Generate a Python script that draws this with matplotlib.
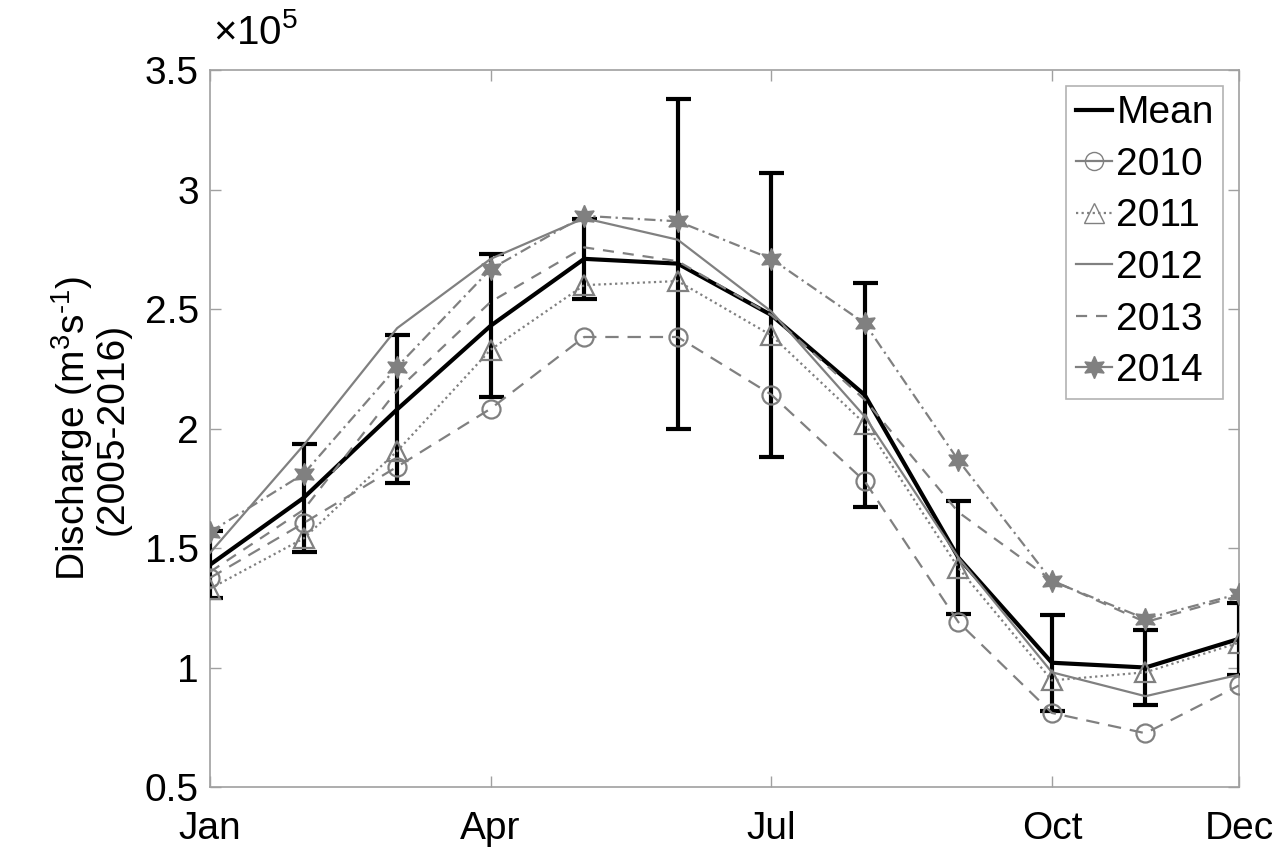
import matplotlib
matplotlib.use("Agg")
import matplotlib.pyplot as plt
from matplotlib.lines import Line2D

plt.rcParams['font.family'] = ['Liberation Sans', 'DejaVu Sans']
plt.rcParams['mathtext.default'] = 'regular'

months = list(range(1, 13))
tick_months = [1, 4, 7, 10, 12]
tick_labels = ['Jan', 'Apr', 'Jul', 'Oct', 'Dec']

# Discharge values in units of 1e5 m^3 s^-1
mean_q = [1.43, 1.71, 2.08, 2.43, 2.71, 2.69, 2.475, 2.14, 1.46, 1.02, 1.00, 1.12]
std_q = [0.14, 0.225, 0.31, 0.30, 0.167, 0.69, 0.595, 0.467, 0.235, 0.20, 0.156, 0.15]
y2010 = [1.375, 1.604, 1.84, 2.083, 2.383, 2.383, 2.142, 1.779, 1.19, 0.81, 0.725, 0.925]
y2011 = [1.33, 1.54, 1.905, 2.33, 2.60, 2.617, 2.39, 2.02, 1.417, 0.946, 0.98, 1.104]
y2012 = [1.48, 1.93, 2.42, 2.71, 2.88, 2.79, 2.49, 2.05, 1.46, 0.98, 0.88, 0.97]
y2013 = [1.40, 1.66, 2.16, 2.53, 2.758, 2.70, 2.475, 2.12, 1.65, 1.365, 1.19, 1.30]
y2014 = [1.567, 1.81, 2.258, 2.667, 2.89, 2.867, 2.71, 2.44, 1.867, 1.362, 1.204, 1.308]

gray = '#808080'

fig = plt.figure(figsize=(12.83, 8.5), dpi=100)
ax = fig.add_axes([0.1637, 0.0741, 0.802, 0.8435])

ax.plot(months, mean_q, color='black', lw=3.0, zorder=3)
ax.errorbar(months, mean_q, yerr=std_q, fmt='none', ecolor='black',
            elinewidth=3.0, capsize=9, capthick=3.0, zorder=3)

star = (6, 1, 0)
ax.plot(months, y2010, color=gray, lw=1.6, ls=(0, (6, 4)), marker='o', ms=13,
        mfc='none', mec=gray, mew=1.6, zorder=4)
ax.plot(months, y2011, color=gray, lw=1.6, ls=(0, (1, 1.5)), marker='^', ms=14,
        mfc='none', mec=gray, mew=1.6, zorder=4)
ax.plot(months, y2012, color=gray, lw=1.6, ls='-', zorder=4)
ax.plot(months, y2013, color=gray, lw=1.6, ls=(0, (5, 4)), zorder=4)
ax.plot(months, y2014, color=gray, lw=1.6, ls=(0, (5, 2, 1, 2)), marker=star, ms=16,
        mfc=gray, mec=gray, zorder=4)

ax.set_xlim(1, 12)
ax.set_ylim(0.5, 3.5)
ax.set_xticks(tick_months)
ax.set_xticklabels(tick_labels)
ax.set_yticks([0.5, 1, 1.5, 2, 2.5, 3, 3.5])
ax.set_yticklabels(['0.5', '1', '1.5', '2', '2.5', '3', '3.5'])
ax.tick_params(direction='in', length=8, width=1, colors='#a0a0a0',
               labelcolor='black', labelsize=28, top=True, right=True)
ax.tick_params(axis='y', pad=8)
ax.tick_params(axis='x', pad=17)
for s in ax.spines.values():
    s.set_color('#a0a0a0')
    s.set_linewidth(1.2)

ax.text(0.003, 1.025, '\u00d710$^{5}$', transform=ax.transAxes, fontsize=29,
        ha='left', va='bottom', color='black')

ax.set_ylabel('Discharge (m$^{3}$s$^{\u2010 1}$)\n(2005-2016)', fontsize=28,
              labelpad=10, linespacing=1.0)

handles = [
    Line2D([], [], color='black', lw=3.0),
    Line2D([], [], color=gray, lw=1.6, marker='o', ms=13, mfc='none', mec=gray),
    Line2D([], [], color=gray, lw=1.6, ls=(0, (1, 1.5)), marker='^', ms=14, mfc='none', mec=gray),
    Line2D([], [], color=gray, lw=1.6),
    Line2D([], [], color=gray, lw=1.6, ls=(0, (5, 4))),
    Line2D([], [], color=gray, lw=1.6, marker=star, ms=16, mfc=gray, mec=gray),
]
labels = ['Mean', '2010', '2011', '2012', '2013', '2014']
leg = ax.legend(handles, labels, loc='upper right', fontsize=28, frameon=True,
                fancybox=False, edgecolor='#a0a0a0', handlelength=0.95,
                handletextpad=0.1, labelspacing=0.4, borderpad=0.25,
                borderaxespad=0.4)
leg.get_frame().set_linewidth(1.2)

fig.savefig('out.png', dpi=100)
